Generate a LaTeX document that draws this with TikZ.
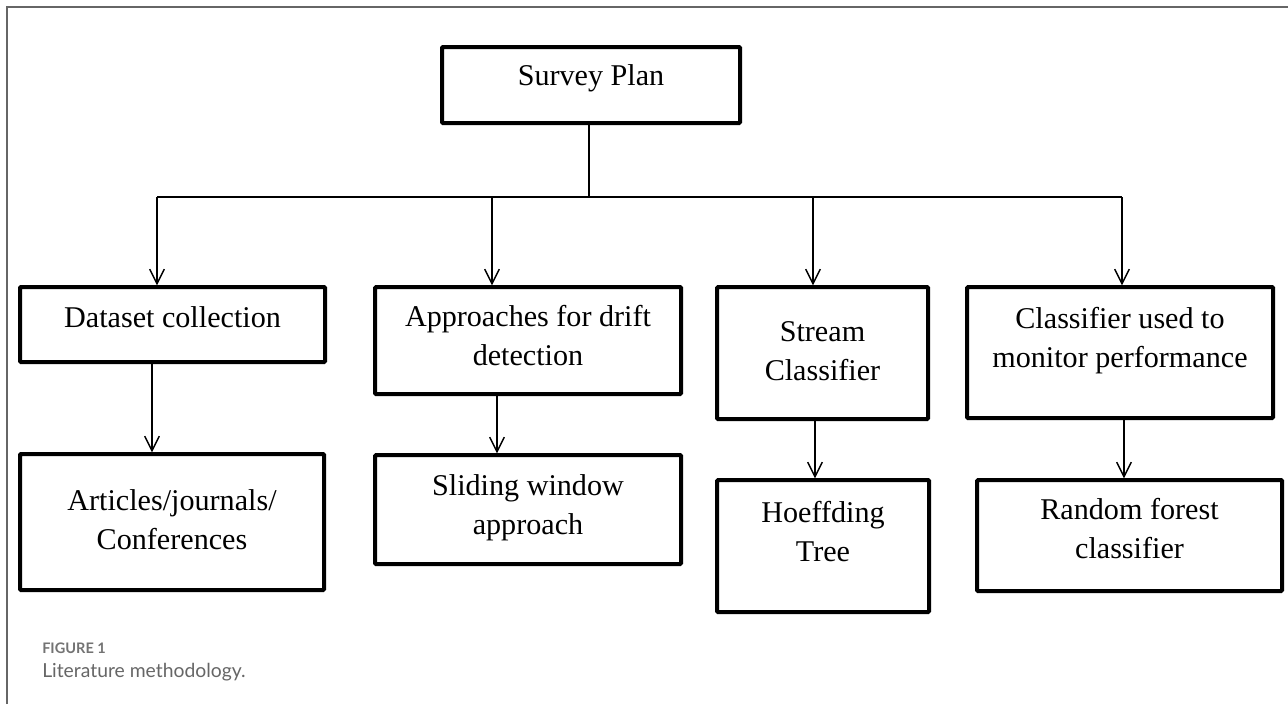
\documentclass[tikz,border=0pt]{standalone}
\usepackage{fontspec}
\setmainfont{Liberation Serif}
\newfontfamily\capfont{Lato}
\usetikzlibrary{arrows.meta}
\newdimen\PX \PX=0.75pt
% box text: width, height, first-baseline offset, text
\newcommand\bxt[4]{\parbox[c][#2\PX][t]{#1\PX}{\centering\vspace*{\dimexpr#3\PX-\ht\strutbox\relax}\strut #4}}
\tikzset{
  flowbox/.style={draw=black, line width=3pt, rounded corners=0.8pt, anchor=north west,
    inner sep=0pt, outer sep=0pt, fill=white, font=\fontsize{22.6}{29.6}\selectfont},
  conn/.style={draw=black, line width=1.1pt},
  arr/.style={conn, -{Straight Barb[length=11pt,width=11pt,line width=1.1pt]}, shorten >=1.2pt},
  frameline/.style={draw=black!60, line width=1.1pt},
  capfig/.style={anchor=base west, inner sep=0pt, text=black!55, font=\capfont\bfseries\fontsize{10.9}{12}\selectfont},
  captext/.style={anchor=base west, inner sep=0pt, text=black!60, font=\capfont\fontsize{14.5}{17}\selectfont}
}
\begin{document}
\begin{tikzpicture}[x=0.75pt,y=-0.75pt]
\useasboundingbox (0,0) rectangle (1288,704);
\draw[frameline] (7,704) -- (7,7) -- (1288,7);

\node[flowbox] (b0) at (442,47) {\bxt{298}{76}{38}{Survey Plan}};

\node[flowbox] (b1) at (20,287) {\bxt{305}{75}{40}{Dataset collection}};
\node[flowbox] (b2) at (375,287) {\bxt{306}{107}{39}{Approaches for drift\\detection}};
\node[flowbox] (b3) at (717,287) {\bxt{211}{132}{54}{Stream\\Classifier}};
\node[flowbox] (b4) at (967,287) {\bxt{306}{131}{41}{Classifier used to\\monitor performance}};

\node[flowbox] (b5) at (20,454) {\bxt{304}{136}{56}{Articles/journals/\\Conferences}};
\node[flowbox] (b6) at (375,455) {\bxt{306}{109}{40}{Sliding window\\approach}};
\node[flowbox] (b7) at (717,480) {\bxt{212}{132}{42}{Hoeffding\\Tree}};
\node[flowbox] (b8) at (977,480) {\bxt{305}{111}{39}{Random forest\\classifier}};

% junction coordinates
\coordinate (j0) at (589,197);
\coordinate (h1) at (157,197);
\coordinate (h2) at (492,197);
\coordinate (h3) at (813,197);
\coordinate (h4) at (1122,197);
\coordinate (a1) at (152,0);
\coordinate (a2) at (497,0);
\coordinate (a3) at (815,0);
\coordinate (a4) at (1124,0);

\draw[conn] (j0 |- b0.south) -- (j0);
\draw[conn] (h1) -- (h4);
\draw[arr] (h1) -- (h1 |- b1.north);
\draw[arr] (h2) -- (h2 |- b2.north);
\draw[arr] (h3) -- (h3 |- b3.north);
\draw[arr] (h4) -- (h4 |- b4.north);

\draw[arr] (a1 |- b1.south) -- (a1 |- b5.north);
\draw[arr] (a2 |- b2.south) -- (a2 |- b6.north);
\draw[arr] (a3 |- b3.south) -- (a3 |- b7.north);
\draw[arr] (a4 |- b4.south) -- (a4 |- b8.north);

\node[capfig] (fig) at (42,653) {FIGURE 1};
\node[captext] (cap) at (42,677) {Literature methodology.};
\end{tikzpicture}
\end{document}
